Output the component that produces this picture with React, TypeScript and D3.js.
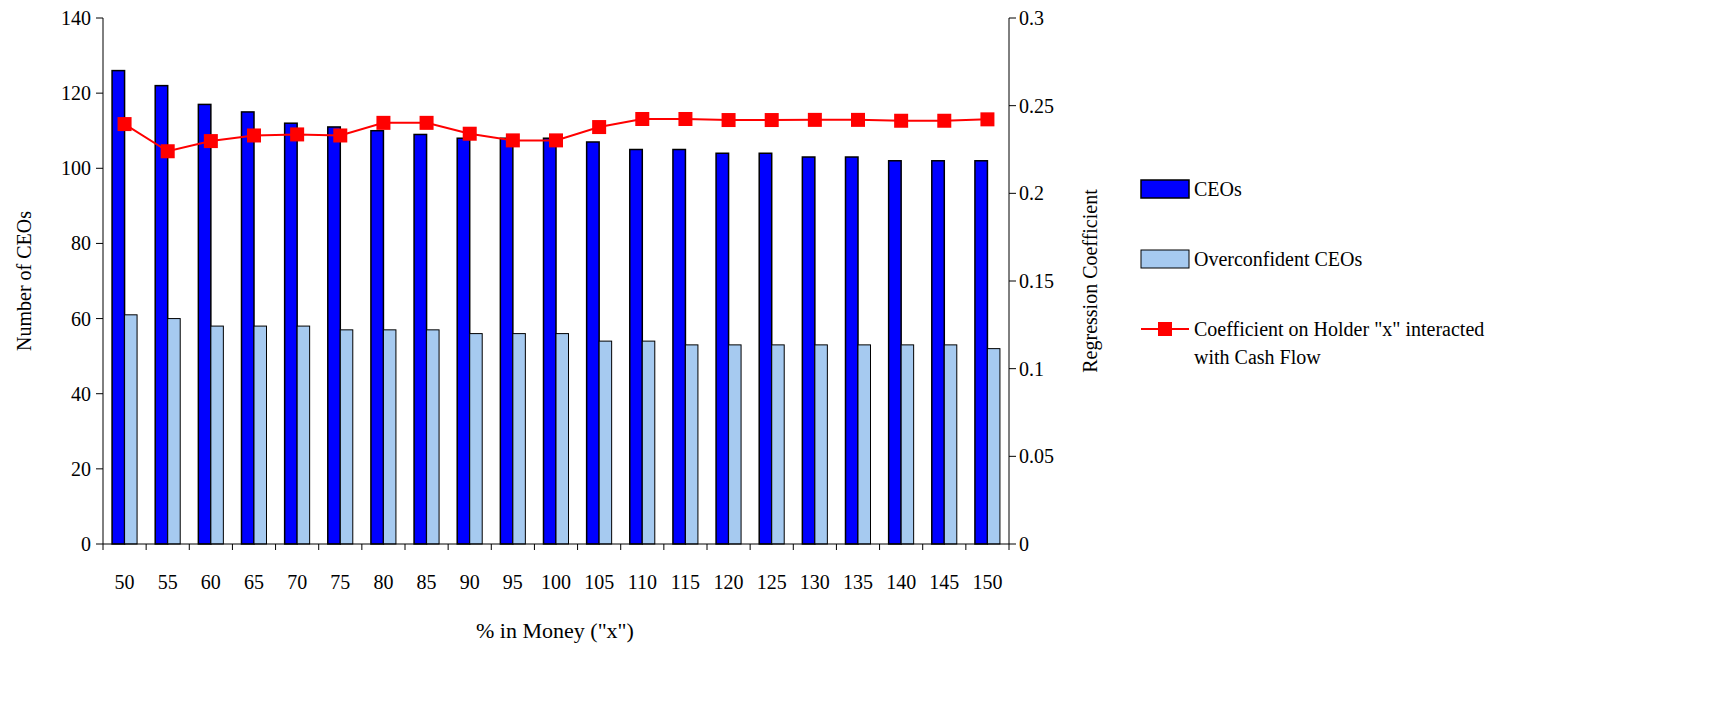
import * as d3 from "d3";
import React from "react";

const categories = [50, 55, 60, 65, 70, 75, 80, 85, 90, 95, 100, 105, 110, 115, 120, 125, 130, 135, 140, 145, 150];
const ceos = [126, 122, 117, 115, 112, 111, 110, 109, 108, 108, 108, 107, 105, 105, 104, 104, 103, 103, 102, 102, 102];
const overconfident = [61, 60, 58, 58, 58, 57, 57, 57, 56, 56, 56, 54, 54, 53, 53, 53, 53, 53, 53, 53, 52];
const coefficient = [0.2395, 0.224, 0.2298, 0.233, 0.2336, 0.233, 0.2402, 0.2402, 0.234, 0.2302, 0.2302, 0.2378, 0.2424, 0.2424, 0.2418, 0.2418, 0.2419, 0.2419, 0.2414, 0.2414, 0.2422];
const leftTicks = [0, 20, 40, 60, 80, 100, 120, 140];
const rightTicks = [0, 0.05, 0.1, 0.15, 0.2, 0.25, 0.3];

export default function App() {
  const W = 1715, H = 704;
  const m = { left: 103, right: 1009, top: 18, bottom: 544 };
  const x = d3.scaleBand<number>().domain(categories).range([m.left, m.right]);
  const yL = d3.scaleLinear().domain([0, 140]).range([m.bottom, m.top]);
  const yR = d3.scaleLinear().domain([0, 0.3]).range([m.bottom, m.top]);
  const bw = 12.5;
  const cx = (c: number) => x(c)! + x.bandwidth() / 2;
  const line = d3.line<number>().x((_, i) => cx(categories[i])).y((d) => yR(d));
  const font = "'Liberation Serif', 'Times New Roman', serif";

  return (
    <svg width={W} height={H} style={{ position: "absolute", left: 0, top: 0, fontFamily: font }}>
      <rect width={W} height={H} fill="#fff" />
      {categories.map((c, i) => (
        <g key={c}>
          <rect x={cx(c) - bw} y={yL(ceos[i])} width={bw} height={yL(0) - yL(ceos[i])} fill="#0000ff" stroke="#000" strokeWidth={1.5} />
          <rect x={cx(c)} y={yL(overconfident[i])} width={bw} height={yL(0) - yL(overconfident[i])} fill="#a6caf0" stroke="#000" strokeWidth={1} />
          <text x={cx(c)} y={589} textAnchor="middle" fontSize={20}>{c}</text>
        </g>
      ))}
      {/* axes */}
      <line x1={m.left} x2={m.left} y1={m.top} y2={m.bottom} stroke="#000" />
      <line x1={m.right} x2={m.right} y1={m.top} y2={m.bottom} stroke="#000" />
      <line x1={m.left} x2={m.right} y1={m.bottom} y2={m.bottom} stroke="#000" />
      {categories.map((c) => (
        <line key={c} x1={x(c)!} x2={x(c)!} y1={m.bottom} y2={m.bottom + 6} stroke="#000" />
      ))}
      <line x1={m.right} x2={m.right} y1={m.bottom} y2={m.bottom + 6} stroke="#000" />
      {leftTicks.map((t) => (
        <g key={t}>
          <line x1={m.left - 7} x2={m.left} y1={yL(t)} y2={yL(t)} stroke="#000" />
          <text x={m.left - 12} y={yL(t)} textAnchor="end" dominantBaseline="central" fontSize={20}>{t}</text>
        </g>
      ))}
      {rightTicks.map((t) => (
        <g key={t}>
          <line x1={m.right} x2={m.right + 7} y1={yR(t)} y2={yR(t)} stroke="#000" />
          <text x={m.right + 10} y={yR(t)} dominantBaseline="central" fontSize={20}>{t}</text>
        </g>
      ))}
      <path d={line(coefficient) ?? undefined} fill="none" stroke="#ff0000" strokeWidth={2} />
      {coefficient.map((v, i) => (
        <rect key={i} x={cx(categories[i]) - 7} y={yR(v) - 7} width={14} height={14} fill="#ff0000" />
      ))}
      <text x={555} y={638} textAnchor="middle" fontSize={22}>% in Money ("x")</text>
      <text transform={`translate(31,${(m.top + m.bottom) / 2}) rotate(-90)`} textAnchor="middle" fontSize={20}>Number of CEOs</text>
      <text transform={`translate(1097,${(m.top + m.bottom) / 2}) rotate(-90)`} textAnchor="middle" fontSize={20}>Regression Coefficient</text>
      {/* legend */}
      <rect x={1141} y={180} width={48} height={18} fill="#0000ff" stroke="#000" strokeWidth={1.5} />
      <text x={1194} y={189} dominantBaseline="central" fontSize={20}>CEOs</text>
      <rect x={1141} y={250} width={48} height={18} fill="#a6caf0" stroke="#000" />
      <text x={1194} y={259} dominantBaseline="central" fontSize={20}>Overconfident CEOs</text>
      <line x1={1141} x2={1189} y1={329} y2={329} stroke="#ff0000" strokeWidth={2} />
      <rect x={1158} y={322} width={14} height={14} fill="#ff0000" />
      <text x={1194} y={329} dominantBaseline="central" fontSize={20}>Coefficient on Holder "x" interacted</text>
      <text x={1194} y={357} dominantBaseline="central" fontSize={20}>with Cash Flow</text>
    </svg>
  );
}
